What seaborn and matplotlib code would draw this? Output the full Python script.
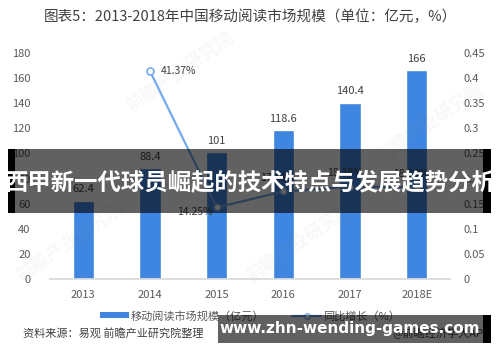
import numpy as np
import pandas as pd
import seaborn as sns
import matplotlib.pyplot as plt
from matplotlib.patches import Rectangle
from matplotlib.lines import Line2D
from matplotlib.patches import Patch

# 数据
years = ["2013", "2014", "2015", "2016", "2017", "2018E"]
market_size = [62.4, 88.4, 101, 118.6, 140.4, 166]
growth = [None, 0.4137, 0.1425, 0.1743, 0.1838, 0.1824]
growth_labels = ["", "41.37%", "14.25%", "17.43%", "18.38%", "18.24%"]

bar_color = "#3f86e0"
line_color = "#75aaf0"
text_gray = "#595959"

sns.set_theme(style="white")
plt.rcParams['font.family'] = ['Noto Sans CJK SC', 'DejaVu Sans']

df = pd.DataFrame({"year": years, "size": market_size, "growth": growth})

fig = plt.figure(figsize=(5, 3.62), dpi=100)
fig.patch.set_facecolor("white")
ax = fig.add_axes([0.10, 0.229, 0.80, 0.625])

sns.barplot(data=df, x="year", y="size", color=bar_color, width=0.32,
            saturation=1, ax=ax)
ax.set_xlim(-0.5, 5.5)
ax.set_ylim(0, 180)
ax.set_yticks(np.arange(0, 181, 20))
ax.set_xlabel("")
ax.set_ylabel("")
for s in ["top", "left", "right"]:
    ax.spines[s].set_visible(False)
ax.spines["bottom"].set_color("#d9d9d9")
ax.tick_params(axis="both", labelsize=8, colors=text_gray, length=0, pad=8)
ax.tick_params(axis="y", pad=14)
for i, v in enumerate(market_size):
    ax.text(i, v + 5, f"{v:g}", ha="center", va="bottom", fontsize=8, color="#404040")

ax2 = ax.twinx()
sns.lineplot(x=np.arange(len(years)), y=df["growth"], ax=ax2, color=line_color,
             linewidth=1.6, marker="o", markersize=5, markerfacecolor="white",
             markeredgecolor=line_color, markeredgewidth=1.2)
ax2.set_ylim(0, 0.45)
ax2.set_yticks(np.arange(0, 0.451, 0.05))
ax2.set_yticklabels(["0", "0.05", "0.1", "0.15", "0.2", "0.25", "0.3", "0.35", "0.4", "0.45"])
ax2.set_ylabel("")
for s in ["top", "left", "right", "bottom"]:
    ax2.spines[s].set_visible(False)
ax2.tick_params(axis="y", labelsize=8, colors=text_gray, length=0, pad=10)
ax2.grid(False)
ax.grid(False)

ax2.annotate(growth_labels[1], (1, growth[1]), xytext=(8, 0), textcoords="offset points",
             ha="left", va="center", fontsize=7.5, color="#404040")
ax2.annotate(growth_labels[2], (2, growth[2]), xytext=(-3, -3), textcoords="offset points",
             ha="right", va="center", fontsize=7.5, color="#404040")
for i in range(3, 6):
    ax2.annotate(growth_labels[i], (i, growth[i]), xytext=(-4, 6), textcoords="offset points",
                 ha="center", va="bottom", fontsize=7.5, color="#404040")

# 标题
fig.text(0.5, 0.953, "图表5：2013-2018年中国移动阅读市场规模（单位：亿元，%）",
         ha="center", va="center", fontsize=10.5, color="#404040")

# 图例
handles = [Patch(facecolor=bar_color, edgecolor="none"),
           Line2D([0], [0], color=line_color, linewidth=1.6, marker="o", markersize=4,
                  markerfacecolor="white", markeredgecolor=line_color)]
fig.legend(handles, ["移动阅读市场规模（亿元）", "同比增长（%）"], loc="center",
           bbox_to_anchor=(0.5, 0.127), ncol=2, frameon=False, fontsize=8,
           handlelength=2.6, handleheight=0.45, columnspacing=2.5, handletextpad=0.2,
           labelcolor=text_gray)

# 来源
fig.text(0.046, 0.08, "资料来源：易观 前瞻产业研究院整理", ha="left", va="center",
         fontsize=8, color="#404040", style="italic")
fig.text(0.98, 0.08, "@前瞻经济学人APP", ha="right", va="center", fontsize=8,
         color="#404040")

# 水印
for (wx, wy) in [(0.36, 0.80), (0.14, 0.33), (0.60, 0.33), (0.86, 0.66)]:
    fig.text(wx, wy, "前瞻产业研究院", rotation=35, fontsize=13, color="#a0a0a0",
             alpha=0.07, ha="center", va="center", fontweight="bold")

# 横幅
fig.add_artist(Rectangle((0.030, 0.4116), 0.936, 0.1768, transform=fig.transFigure,
                         facecolor="black", alpha=0.62, edgecolor="none", zorder=10))
fig.add_artist(Rectangle((0.016, 0.4116), 0.014, 0.1768, transform=fig.transFigure,
                         facecolor="black", edgecolor="none", zorder=10))
fig.add_artist(Rectangle((0.966, 0.4116), 0.016, 0.1768, transform=fig.transFigure,
                         facecolor="black", edgecolor="none", zorder=10))
fig.text(0.5, 0.497, "西甲新一代球员崛起的技术特点与发展趋势分析", ha="center", va="center",
         fontsize=16.8, color="white", fontweight="bold", zorder=11)

fig.add_artist(Rectangle((0.436, 0.0525), 0.530, 0.0773, transform=fig.transFigure,
                         facecolor="black", alpha=0.62, edgecolor="none", zorder=10))
fig.add_artist(Rectangle((0.966, 0.0525), 0.016, 0.0773, transform=fig.transFigure,
                         facecolor="black", edgecolor="none", zorder=10))
fig.text(0.70, 0.093, "www.zhn-wending-games.com", ha="center", va="center",
         fontsize=11, color="white", fontweight="bold", family="DejaVu Sans", zorder=11)

fig.savefig("out.png", dpi=100)
